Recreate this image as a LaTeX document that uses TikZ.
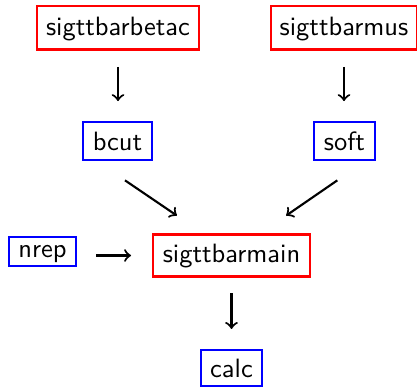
\documentclass[tikz,border=0pt]{standalone}
\renewcommand{\familydefault}{\sfdefault}
\usetikzlibrary{calc}
\begin{document}
\begin{tikzpicture}[x=0.37736pt,y=-0.37736pt,
  box/.style={draw,line width=0.8pt,inner sep=0pt,anchor=base,font=\sffamily},
  redbox/.style={box,draw=red},
  bluebox/.style={box,draw=blue},
  link/.style={->,line width=0.8pt,black}]
\useasboundingbox (0,0) rectangle (417,386);
% nodes (placed on their text baselines)
\node[redbox,minimum width=61.13pt,text height=10.94pt,text depth=5.47pt] (betac) at (118,35) {sigttbarbetac};
\node[redbox,minimum width=55.10pt,text height=10.94pt,text depth=5.47pt] (mus) at (344,35) {sigttbarmus};
\node[bluebox,minimum width=26.04pt,text height=10.57pt,text depth=3.77pt] (bcut) at (117.5,150) {bcut};
\node[bluebox,minimum width=23.02pt,text height=10.57pt,text depth=3.77pt] (soft) at (344.5,150) {soft};
\node[redbox,minimum width=59.25pt,text height=10.57pt,text depth=5.28pt] (main) at (231.5,262.5) {sigttbarmain};
\node[bluebox,minimum width=25.28pt,text height=7.55pt,text depth=3.40pt] (nrep) at (42.5,257) {nrep};
\node[bluebox,minimum width=23.02pt,text height=10.19pt,text depth=3.40pt] (calc) at (231.5,377) {calc};
% connectors
\draw[link,shorten <=6.2pt,shorten >=7.5pt] (betac.south) -- (betac.south |- bcut.north);
\draw[link,shorten <=6.2pt,shorten >=7.5pt] (mus.south) -- (mus.south |- soft.north);
\draw[link] ($(bcut.south)+(7.5,19.3)$) -- ($(main.north west)+(25,-17.8)$);
\draw[link] ($(soft.south)+(-7.2,19.3)$) -- ($(main.north east)+(-25,-17.8)$);
\draw[link,shorten <=7.2pt,shorten >=7.9pt] (nrep.east |- main.west) -- (main.west);
\draw[link,shorten <=5.85pt,shorten >=7.55pt] (main.south) -- (main.south |- calc.north);
\end{tikzpicture}
\end{document}
